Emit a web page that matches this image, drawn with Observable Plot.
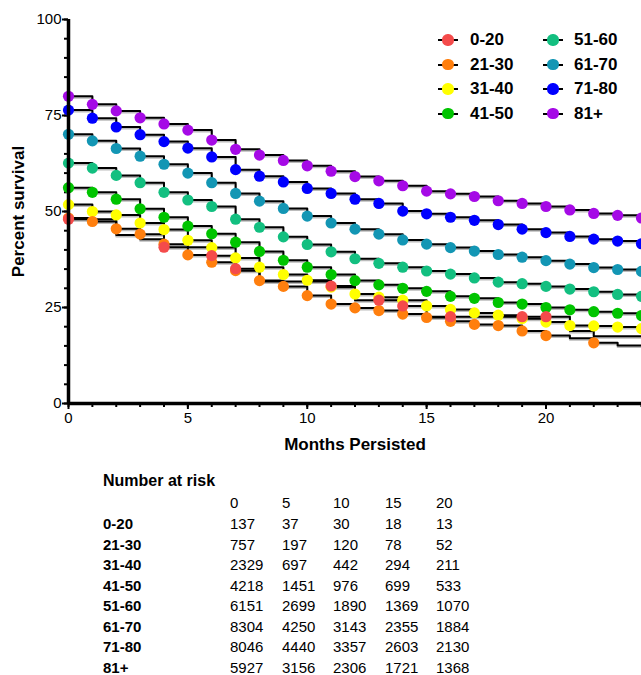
<!DOCTYPE html>
<html>
<head>
<meta charset="utf-8">
<script src="https://cdn.jsdelivr.net/npm/d3@7"></script>
<script src="https://cdn.jsdelivr.net/npm/@observablehq/plot@0.6"></script>
<style>
  html, body { margin: 0; padding: 0; background: #fff; }
  body { font-family: "Liberation Sans", Arial, sans-serif; color: #000; }
  #wrap { position: relative; width: 641px; height: 675px; overflow: hidden; }
  #chart svg { display: block; overflow: visible; }
  .abs { position: absolute; white-space: nowrap; line-height: 20px; height: 20px; }
  .b { font-weight: bold; }
</style>
</head>
<body>
<div id="wrap"><div id="chart"></div></div>
<script>
// ---- data ----
const groups = ["0-20", "21-30", "31-40", "41-50", "51-60", "61-70", "71-80", "81+"];
const colors = ["#F44B4B", "#FF7F0E", "#FFFF00", "#00C400", "#13BF80", "#1396B4", "#0000FF", "#A50AE6"];
const months = [0,1,2,3,4,5,6,7,8,9,10,11,12,13,14,15,16,17,18,19,20,21,22,23,24];

const s0_20  = [48.0,48.0,43.9,42.8,40.7,40.7,38.5,35.1,31.8,31.8,31.8,30.6,26.9,26.9,25.4,22.6,22.6,22.6,22.6,22.6,22.6,18.9,17.5,17.5,17.5];
const s21_30 = [48.3,47.4,45.5,44.1,41.5,38.7,36.8,34.6,32.0,30.5,28.1,25.9,24.9,24.2,23.3,22.4,21.4,20.6,20.3,18.9,17.7,17.0,15.8,15.1,15.1];
const s31_40 = [51.8,50.0,49.1,47.0,45.3,42.5,40.6,37.9,35.5,33.6,32.1,30.3,28.5,27.7,26.9,25.4,24.5,23.6,23.0,22.1,21.2,20.3,20.2,19.9,19.5];
const s41_50 = [56.2,55.0,53.2,50.7,48.5,46.2,44.2,42.0,39.6,37.3,35.5,33.6,32.0,30.9,30.0,29.2,27.9,27.4,26.3,25.9,25.0,24.4,23.9,23.5,22.9];
const s51_60 = [62.6,61.3,59.4,57.5,55.0,53.0,51.3,48.0,45.9,43.4,41.4,39.5,37.7,36.5,35.5,34.5,33.7,32.7,31.6,31.2,30.5,29.8,29.1,28.4,27.9];
const s61_70 = [70.1,68.4,66.4,64.4,62.3,60.0,57.5,54.7,52.7,50.8,48.8,47.0,45.4,44.1,42.6,41.5,40.6,39.7,38.8,38.1,37.2,36.3,35.4,34.9,34.4];
const s71_80 = [76.4,74.3,72.0,70.0,68.2,66.5,64.2,60.9,59.2,57.7,56.0,54.7,53.2,52.1,50.1,49.4,48.5,47.7,46.6,45.4,44.5,43.5,42.8,42.3,41.6];
const s81    = [80.0,77.9,76.2,74.4,72.8,71.2,68.6,66.2,64.7,63.3,61.9,60.5,59.1,58.0,56.7,55.3,54.6,53.9,52.8,52.1,51.3,50.4,49.5,49.0,48.3];
const series = [s0_20, s21_30, s31_40, s41_50, s51_60, s61_70, s71_80, s81];

// months where a curve has a step but no symbol
const noMarker0_20  = [1,2,3,5,8,9,10,12,15,17,18,21,22,23,24];
const noMarker21_30 = [21,23,24];
const noMarkers = [noMarker0_20, noMarker21_30, [], [], [], [], [], []];

const yMajor = [0, 25, 50, 75, 100];
const yMinor = [0,5,10,15,20,25,30,35,40,45,50,55,60,65,70,75,80,85,90,95,100];
const xMajor = [0, 5, 10, 15, 20];
const xMinor = months;

const riskTimes = [0, 5, 10, 15, 20];
const risk0_20  = [137, 37, 30, 18, 13];
const risk21_30 = [757, 197, 120, 78, 52];
const risk31_40 = [2329, 697, 442, 294, 211];
const risk41_50 = [4218, 1451, 976, 699, 533];
const risk51_60 = [6151, 2699, 1890, 1369, 1070];
const risk61_70 = [8304, 4250, 3143, 2355, 1884];
const risk71_80 = [8046, 4440, 3357, 2603, 2130];
const risk81    = [5927, 3156, 2306, 1721, 1368];
const riskRows = [risk0_20, risk21_30, risk31_40, risk41_50, risk51_60, risk61_70, risk71_80, risk81];

// ---- build table (drawn in reverse so 0-20 sits on top) ----
const rows = [];
for (let g = groups.length - 1; g >= 0; g--) {
  months.forEach((m, i) => rows.push({
    group: groups[g], month: m, value: series[g][i],
    marker: !noMarkers[g].includes(m)
  }));
}

const font = '"Liberation Sans", Arial, sans-serif';
const chart = Plot.plot({
  width: 641,
  height: 455,
  marginLeft: 68,
  marginRight: 0,
  marginTop: 19,
  marginBottom: 52,
  style: { fontFamily: font, fontSize: "15px", color: "#000", background: "transparent" },
  x: { domain: [0, 24] },
  y: { domain: [0, 100] },
  color: { domain: groups, range: colors },
  marks: [
    Plot.axisY({ ticks: yMinor, tickSize: 4, text: null, label: null, strokeWidth: 2 }),
    Plot.axisY({ ticks: yMajor, tickSize: 6, tickPadding: 1, label: null, strokeWidth: 2, fontSize: 15 }),
    Plot.axisX({ ticks: xMinor, tickSize: 4, text: null, label: null, strokeWidth: 2 }),
    Plot.axisX({ ticks: xMajor, tickSize: 6, tickPadding: 3, label: null, strokeWidth: 2, fontSize: 15 }),
    Plot.line(rows, { x: "month", y: "value", z: "group", curve: "step-after", stroke: "#bbb", strokeWidth: 2, dy: 1.5 }),
    Plot.line(rows, { x: "month", y: "value", z: "group", curve: "step-after", stroke: "#000", strokeWidth: 2 }),
    Plot.dot(rows, { filter: d => d.marker, x: "month", y: "value", fill: "group", r: 5.6, stroke: null }),
    Plot.ruleX([0], { stroke: "#000", strokeWidth: 3.5 }),
    Plot.ruleY([0], { stroke: "#000", strokeWidth: 3.5 }),
    Plot.text(["Percent survival"], { text: d => d, frameAnchor: "left", dx: -50, rotate: -90,
      textAnchor: "middle", lineAnchor: "middle", fontWeight: "bold", fontSize: 17 }),
    Plot.text(["Months Persisted"], { text: d => d, frameAnchor: "bottom", dy: 41,
      textAnchor: "middle", lineAnchor: "middle", fontWeight: "bold", fontSize: 17 })
  ]
});
document.getElementById("chart").appendChild(chart);

const wrap = document.getElementById("wrap");
function addText(txt, x, yc, bold, size) {
  const d = document.createElement("div");
  d.className = "abs" + (bold ? " b" : "");
  d.textContent = txt;
  d.style.left = x + "px";
  d.style.top = (yc - 10) + "px";
  d.style.fontSize = size + "px";
  wrap.appendChild(d);
  return d;
}

// ---- legend ----
groups.forEach((g, i) => {
  const col = Math.floor(i / 4), row = i % 4;
  const cx = col === 0 ? 448 : 553;
  const lx = col === 0 ? 470 : 574;
  const cy = 40 + row * 24.5;
  const line = document.createElement("div");
  line.style.cssText = `position:absolute;left:${cx - 10}px;top:${cy - 1}px;width:20px;height:2px;background:#000;`;
  wrap.appendChild(line);
  const dot = document.createElement("div");
  dot.style.cssText = `position:absolute;left:${cx - 5.6}px;top:${cy - 5.6}px;width:11.2px;height:11.2px;border-radius:50%;background:${colors[i]};`;
  wrap.appendChild(dot);
  addText(g, lx, cy, true, 17);
});

// ---- number at risk table ----
addText("Number at risk", 103, 481, true, 16);
const colX = [230, 282, 333, 385, 436];
riskTimes.forEach((t, j) => addText(String(t), colX[j], 503, false, 15));
groups.forEach((g, i) => {
  const yc = 524 + i * 20.5;
  addText(g, 103, yc, true, 15);
  riskRows[i].forEach((v, j) => addText(String(v), colX[j], yc, false, 15));
});
</script>
</body>
</html>
